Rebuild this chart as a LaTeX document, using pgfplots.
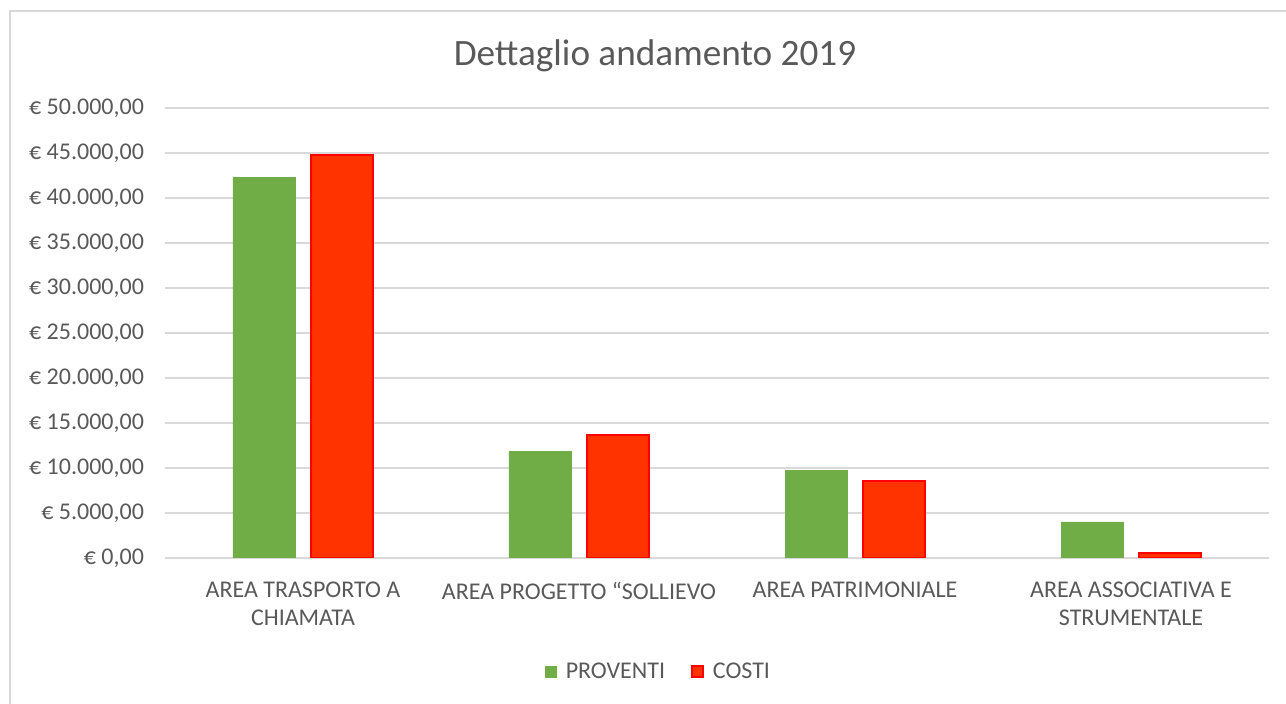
\documentclass[border=0pt]{standalone}
\usepackage{pgfplots}
\pgfplotsset{compat=1.18}
\usepackage{fontspec}
\setmainfont{Carlito}
\definecolor{txt}{HTML}{595959}
\definecolor{gridc}{HTML}{D9D9D9}
\definecolor{pgreen}{HTML}{70AD47}
\definecolor{cred}{HTML}{FF3300}
\definecolor{cedge}{HTML}{FF0000}
\begin{document}
\begin{tikzpicture}[x=1pt,y=1pt]
\useasboundingbox (0,0) rectangle (643,352);
\draw[gridc, line width=1pt] (5,-5) -- (5,346.5) -- (660,346.5);
\node[txt, font=\fontsize{18.6}{22}\selectfont] at (327.5,324) {Dettaglio andamento 2019};
\begin{axis}[
  at={(82.5pt,73pt)}, anchor=south west,
  scale only axis, width=552pt, height=225pt,
  ybar=8pt, bar width=31pt,
  xmin=-0.5, xmax=3.5, ymin=0, ymax=50000,
  scaled y ticks=false,
  xtick={0,1,2,3},
  xticklabels={{AREA TRASPORTO A\\CHIAMATA},{AREA PROGETTO “SOLLIEVO},{AREA PATRIMONIALE},{AREA ASSOCIATIVA E\\STRUMENTALE}},
  ytick={0,5000,10000,15000,20000,25000,30000,35000,40000,45000,50000},
  yticklabels={{€ 0,00},{€ 5.000,00},{€ 10.000,00},{€ 15.000,00},{€ 20.000,00},{€ 25.000,00},{€ 30.000,00},{€ 35.000,00},{€ 40.000,00},{€ 45.000,00},{€ 50.000,00}},
  axis line style={draw=none},
  major tick length=0pt,
  ymajorgrids, grid style={gridc, line width=1pt},
  yticklabel style={txt, font=\fontsize{12}{14}\selectfont, xshift=-7pt},
  xticklabel style={txt, font=\fontsize{12}{14}\selectfont, align=center, yshift=-8.5pt},
  legend style={at={(0.448,-0.253)}, anchor=center, draw=none, fill=none,
    legend columns=2, font=\fontsize{12}{14}\selectfont, text=txt,
    /tikz/every even column/.append style={column sep=11pt},
    /tikz/every odd column/.append style={column sep=2.5pt}},
  legend image code/.code={\draw[#1] (0pt,-2.7pt) rectangle (5.4pt,2.7pt);},
]
\addplot[fill=pgreen, draw=pgreen, line width=0.4pt] coordinates {(0,42300) (1,11800) (2,9700) (3,4000)};
\addplot[fill=cred, draw=cedge, line width=1pt] coordinates {(0,44800) (1,13700) (2,8600) (3,550)};
\legend{PROVENTI, COSTI}
\end{axis}
\end{tikzpicture}
\end{document}
